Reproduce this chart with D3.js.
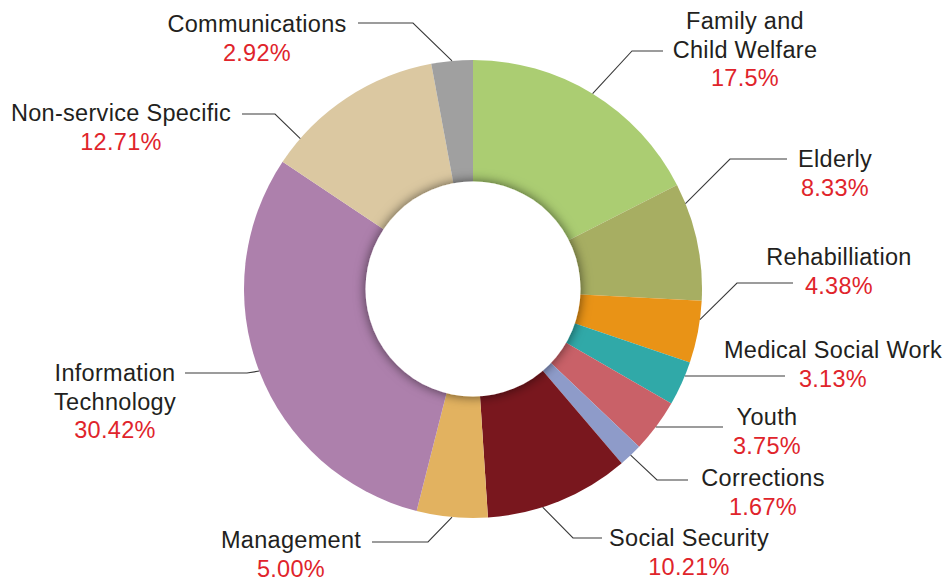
<!DOCTYPE html>
<html>
<head>
<meta charset="utf-8">
<script src="https://cdn.jsdelivr.net/npm/d3@7"></script>
<style>
  body { margin: 0; background: #fff; }
  svg { display: block; }
  .name { fill: #231f20; }
  .pct { fill: #e0242b; }
</style>
</head>
<body>
<div class="chart"></div>
<script>
// slices, clockwise from 12 o'clock
var categories = ["Family and\nChild Welfare", "Elderly", "Rehabilliation", "Medical Social Work", "Youth",
  "Corrections", "Social Security", "Management", "Information\nTechnology", "Non-service Specific", "Communications"];
var shares = [17.5, 8.33, 4.38, 3.13, 3.75, 1.67, 10.21, 5.00, 30.42, 12.71, 2.92];
var shareLabels = ["17.5%", "8.33%", "4.38%", "3.13%", "3.75%", "1.67%", "10.21%", "5.00%", "30.42%", "12.71%", "2.92%"];

var colors = ["#abcd72", "#a7ae62", "#e99316", "#30a9a8", "#c96168", "#8e9bc9",
  "#79171e", "#e2b260", "#ad80ac", "#dbc8a1", "#a0a0a0"];

// hand placed labels: text centre x, first baseline, leader line y, elbow x, end x
// t = where along the slice the leader starts (0..1), flat = leader runs straight in
var labelLayout = [
  {x: 745, y: 29,  ly: 51,  ex: 632, end: 663, t: 0.5},
  {x: 835, y: 167, ly: 159, ex: 730, end: 787, t: 0.17},
  {x: 839, y: 265, ly: 283, ex: 737, end: 793, t: 0.3},
  {x: 833, y: 358, ly: 376, end: 785, flat: true},
  {x: 767, y: 425, ly: 427, end: 723, flat: true},
  {x: 763, y: 486, ly: 480, ex: 657, end: 688, t: 0.5},
  {x: 689, y: 546, ly: 538, ex: 573, end: 602, t: 0.62},
  {x: 291, y: 548, ly: 542, ex: 428, end: 372, t: 0.5},
  {x: 115, y: 381, ly: 373, ex: 247, end: 185, t: 0.5},
  {x: 121, y: 121, ly: 114, ex: 275, end: 242, t: 0.16},
  {x: 257, y: 32,  ly: 23,  ex: 413, end: 358, t: 0.5}
];

var width = 947,
    height = 581,
    cx = 473,
    cy = 289,
    outerR = 229,
    innerR = 107.5;

var svg = d3.select(".chart")
  .append("svg")
  .attr("width", width)
  .attr("height", height);

var defs = svg.append("defs");
var shadow = defs.append("filter")
  .attr("id", "holeShadow")
  .attr("x", "-30%").attr("y", "-30%")
  .attr("width", "160%").attr("height", "160%");
shadow.append("feDropShadow")
  .attr("dx", 0).attr("dy", 0)
  .attr("stdDeviation", 6)
  .attr("flood-color", "#000")
  .attr("flood-opacity", 0.6);

var g = svg.append("g")
  .attr("transform", "translate(" + cx + "," + cy + ")");

var pie = d3.pie()
  .sort(null)
  .value(function(d){ return d; });

var arcs = pie(shares);

var arc = d3.arc()
  .innerRadius(0)
  .outerRadius(outerR);

g.selectAll(".slice")
  .data(arcs)
  .enter()
  .append("path")
  .attr("class", "slice")
  .attr("d", arc)
  .style("fill", function(d, i){ return colors[i]; });

// the hole, with its soft shadow over the slices
g.append("circle")
  .attr("r", innerR)
  .style("fill", "#fff")
  .attr("filter", "url(#holeShadow)");

// leader lines
var leaders = arcs.map(function(d, i){
  var L = labelLayout[i];
  var ly = L.ly - cy;
  var start;
  if (L.flat){
    var side = L.end > cx ? 1 : -1;
    start = [side * Math.sqrt(outerR * outerR - ly * ly), ly];
    return [start, [L.end - cx, ly]];
  }
  var a = d.startAngle + (d.endAngle - d.startAngle) * L.t;
  start = [outerR * Math.sin(a), -outerR * Math.cos(a)];
  return [start, [L.ex - cx, ly], [L.end - cx, ly]];
});

g.selectAll(".leader")
  .data(leaders)
  .enter()
  .append("path")
  .attr("class", "leader")
  .attr("d", d3.line())
  .style("fill", "none")
  .style("stroke", "#3a3a3a")
  .style("stroke-width", 1.1);

// labels
var lineGap = 28.5;
var labels = svg.selectAll(".label")
  .data(categories)
  .enter()
  .append("text")
  .attr("class", "label")
  .attr("text-anchor", "middle")
  .style("font-family", "'Liberation Sans', Arial, Helvetica, sans-serif")
  .style("font-size", "23.5px")
  .style("letter-spacing", "0.3px");

labels.each(function(name, i){
  var L = labelLayout[i];
  var t = d3.select(this);
  var rows = name.split("\n");
  rows.forEach(function(r, j){
    t.append("tspan")
      .attr("class", "name")
      .attr("x", L.x)
      .attr("y", L.y + j * lineGap)
      .text(r);
  });
  t.append("tspan")
    .attr("class", "pct")
    .attr("x", L.x)
    .attr("y", L.y + rows.length * lineGap)
    .text(shareLabels[i]);
});
</script>
</body>
</html>
